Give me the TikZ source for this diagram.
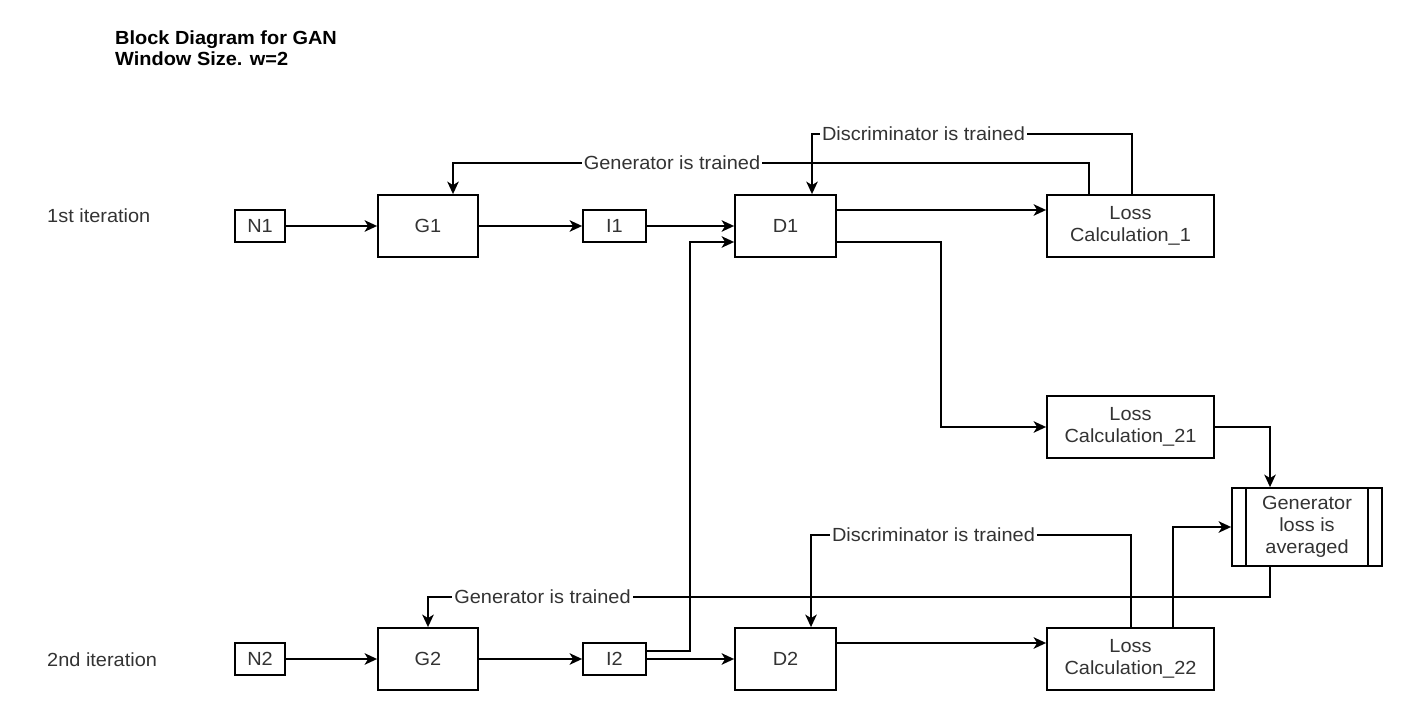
\documentclass[tikz,border=0pt]{standalone}
\usepackage{fontspec}
\setmainfont{Liberation Sans}[FakeStretch=1.05]
\usetikzlibrary{arrows.meta,calc}
\pgfdeclarelayer{bg}
\pgfsetlayers{bg,main}
\begin{document}
\begin{tikzpicture}[x=1pt,y=-1pt,
  txt/.style={font=\fontsize{19}{22}\selectfont, text=black!80},
  box/.style={txt, draw=black, line width=1.8pt, fill=white, inner sep=0pt,
    align=center, minimum height=62pt},
  smallbox/.style={box, minimum height=32pt},
  lbl/.style={txt, fill=white, inner sep=2pt},
  arr/.style={line width=1.8pt, draw=black,
    -{Stealth[length=12.5pt,width=11.5pt,inset=3.5pt]}}]
\useasboundingbox (0,0) rectangle (1412,719);

% heading
\node[anchor=base west, inner sep=0pt, text=black,
  font=\bfseries\fontsize{19}{22}\selectfont] (title1) at (115,45) {Block Diagram for GAN};
\node[anchor=base west, inner sep=0pt, text=black,
  font=\bfseries\fontsize{19}{22}\selectfont] (title2) at (115,66) {Window Size. w=2};

% row captions
\node[txt, anchor=base west, inner sep=0pt] (it1) at (47,223) {1st iteration};
\node[txt, anchor=base west, inner sep=0pt] (it2) at (47,666) {2nd iteration};

% first iteration
\node[smallbox, minimum width=50pt] (N1) at (260,226) {N1};
\node[box, minimum width=100pt] (G1) at (428,226) {G1};
\node[smallbox, minimum width=63pt] (I1) at (614.5,226) {I1};
\node[box, minimum width=101pt] (D1) at (785.5,226) {D1};
\node[box, minimum width=167pt] (L1) at (1130.5,226) {Loss\\Calculation\_1};

% cross loss and averaging
\node[box, minimum width=167pt] (L21) at (1130.5,427) {Loss\\Calculation\_21};
\node[box, minimum width=150pt, minimum height=78pt] (AVG) at (1307,527)
  {Generator\\loss is\\averaged};
\draw[line width=1.8pt] ([xshift=15pt]AVG.north west) -- ([xshift=15pt]AVG.south west);
\draw[line width=1.8pt] ([xshift=-15pt]AVG.north east) -- ([xshift=-15pt]AVG.south east);

% second iteration
\node[smallbox, minimum width=50pt] (N2) at (260,659) {N2};
\node[box, minimum width=100pt] (G2) at (428,659) {G2};
\node[smallbox, minimum width=63pt] (I2) at (614.5,659) {I2};
\node[box, minimum width=101pt] (D2) at (785.5,659) {D2};
\node[box, minimum width=167pt] (L22) at (1130.5,659) {Loss\\Calculation\_22};

% feedback labels
\node[lbl] (gt1) at (672,163) {Generator is trained};
\node[lbl] (dt1) at (923.5,134) {Discriminator is trained};
\node[lbl] (gt2) at (542.5,597) {Generator is trained};
\node[lbl] (dt2) at (933.5,535) {Discriminator is trained};

% helper points
\coordinate (d1in) at ([yshift=-16pt]D1.west);
\coordinate (riser) at (690,0);
\coordinate (d1out) at ([yshift=-16pt]D1.east);
\coordinate (l21turn) at ($(L21.west)+(-105,0)$);

\begin{pgfonlayer}{bg}
  % forward flow, first iteration
  \draw[arr] (N1.east) -- (G1.west);
  \draw[arr] (G1.east) -- (I1.west);
  \draw[arr] (I1.east) -- (D1.west);
  \draw[arr] ([yshift=16pt]D1.east) -- ([yshift=16pt]L1.west);
  \draw[arr] (d1out) -| (l21turn) -- (L21.west);
  % feedback, first iteration
  \draw[arr] ([xshift=-41.5pt]L1.north) |- (gt1.center) -| ([xshift=25pt]G1.north);
  \draw[arr] ([xshift=1.5pt]L1.north) |- (dt1.center) -| ([xshift=26.5pt]D1.north);
  % averaging
  \draw[arr] (L21.east) -| ([xshift=-37pt]AVG.north);
  \draw[arr] ([xshift=42.5pt]L22.north) |- (AVG.west);
  \draw[arr] ([xshift=-37pt]AVG.south) |- (gt2.center) -| (G2.north);
  % forward flow, second iteration
  \draw[arr] (N2.east) -- (G2.west);
  \draw[arr] (G2.east) -- (I2.west);
  \draw[arr] (I2.east) -- (D2.west);
  \draw[arr] ([yshift=8pt]I2.east) -| (riser |- d1in) -- (d1in);
  \draw[arr] ([yshift=16pt]D2.east) -- ([yshift=16pt]L22.west);
  % feedback, second iteration
  \draw[arr] ([xshift=0.5pt]L22.north) |- (dt2.center) -| ([xshift=25.5pt]D2.north);
\end{pgfonlayer}
\end{tikzpicture}
\end{document}
